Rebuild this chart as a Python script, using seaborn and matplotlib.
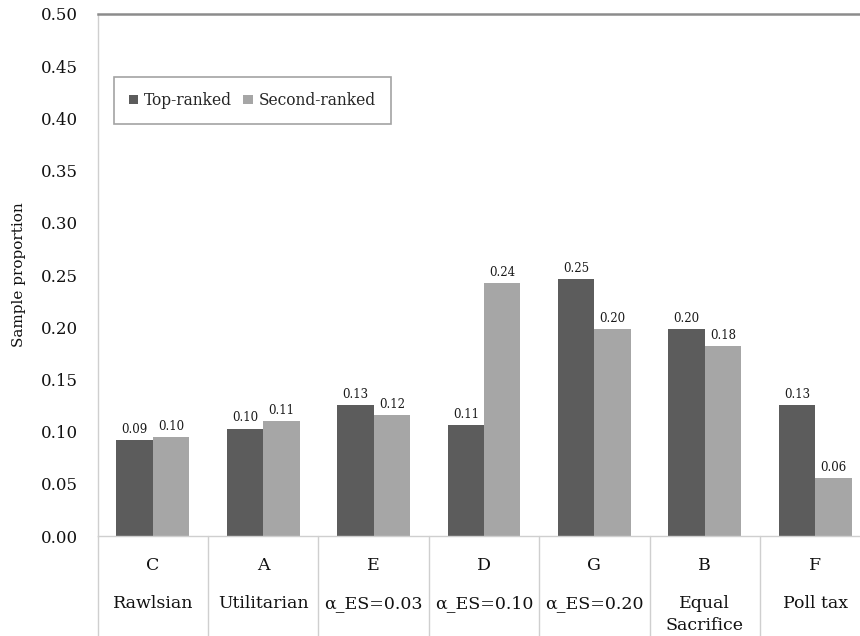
import matplotlib
matplotlib.use("Agg")
import matplotlib.pyplot as plt
import seaborn as sns
import pandas as pd

# Data
letters = ["C", "A", "E", "D", "G", "B", "F"]
names = ["Rawlsian", "Utilitarian", "\u03b1_ES=0.03", "\u03b1_ES=0.10",
         "\u03b1_ES=0.20", "Equal\nSacrifice", "Poll tax"]
series = ["Top-ranked", "Second-ranked"]
top_ranked = [0.092, 0.103, 0.1255, 0.106, 0.246, 0.1985, 0.1255]
second_ranked = [0.095, 0.110, 0.116, 0.242, 0.198, 0.182, 0.0558]
yticks = [0.00, 0.05, 0.10, 0.15, 0.20, 0.25, 0.30, 0.35, 0.40, 0.45, 0.50]

df = pd.DataFrame({
    "rule": letters * 2,
    "series": [series[0]] * len(letters) + [series[1]] * len(letters),
    "value": top_ranked + second_ranked,
})

sns.set_style("white")
plt.rcParams["font.family"] = ["DejaVu Serif", "DejaVu Sans"]

fig = plt.figure(figsize=(8.6, 6.36), dpi=100)
ax = fig.add_axes([0.1135, 0.157, 0.8865, 0.821])

palette = {"Top-ranked": "#5c5c5c", "Second-ranked": "#a6a6a6"}
sns.barplot(data=df, x="rule", y="value", hue="series", order=letters,
            hue_order=series, palette=palette, width=0.66, saturation=1,
            errorbar=None, ax=ax, linewidth=0)

for cont in ax.containers:
    ax.bar_label(cont, fmt="%.2f", padding=3, fontsize=8.5, color="#1a1a1a")

ax.set_ylim(0, 0.50)
ax.set_yticks(yticks)
ax.set_yticklabels([f"{t:.2f}" for t in yticks], fontsize=12, color="#111111")
ax.set_xlim(-0.5, 6.406)
ax.set_xticks(range(len(letters)))
ax.set_xticklabels([])
ax.tick_params(axis="x", length=0)
ax.tick_params(axis="y", length=6, width=1, color="#cfcfcf", direction="out", pad=8)

ax.set_xlabel("")
ax.set_ylabel("Sample proportion", fontsize=11, color="#111111")
ax.yaxis.set_label_coords(-0.094, 0.5)

for side in ["left", "bottom"]:
    ax.spines[side].set_color("#cfcfcf")
    ax.spines[side].set_linewidth(1)
ax.spines["right"].set_visible(False)
ax.spines["top"].set_color("#8c8c8c")
ax.spines["top"].set_linewidth(1.8)

# Category table under the axis: letters, rule names and separators
for i, (let, nm) in enumerate(zip(letters, names)):
    ax.annotate(let, xy=(i, 0), xycoords=("data", "axes fraction"),
                xytext=(0, -29 * 0.72), textcoords="offset points",
                ha="center", va="center", fontsize=12.5, color="#111111")
    ax.annotate(nm, xy=(i, 0), xycoords=("data", "axes fraction"),
                xytext=(0, -59 * 0.72), textcoords="offset points",
                ha="center", va="top", fontsize=12.5, color="#111111",
                linespacing=1.4)

for b in [k - 0.5 for k in range(len(letters))]:
    ax.plot([b, b], [0, -0.2], transform=ax.get_xaxis_transform(),
            color="#cfcfcf", lw=1, clip_on=False)

leg = ax.legend(loc="upper left", bbox_to_anchor=(0.0215, 0.879),
                borderaxespad=0, ncol=2, fontsize=11.2, frameon=True,
                fancybox=False, edgecolor="#8c8c8c", handlelength=0.6,
                handleheight=0.6, handletextpad=0.4, columnspacing=0.7,
                borderpad=0.95)
leg.get_frame().set_linewidth(1.2)
leg.set_title(None)

fig.savefig("out.png", dpi=100)
